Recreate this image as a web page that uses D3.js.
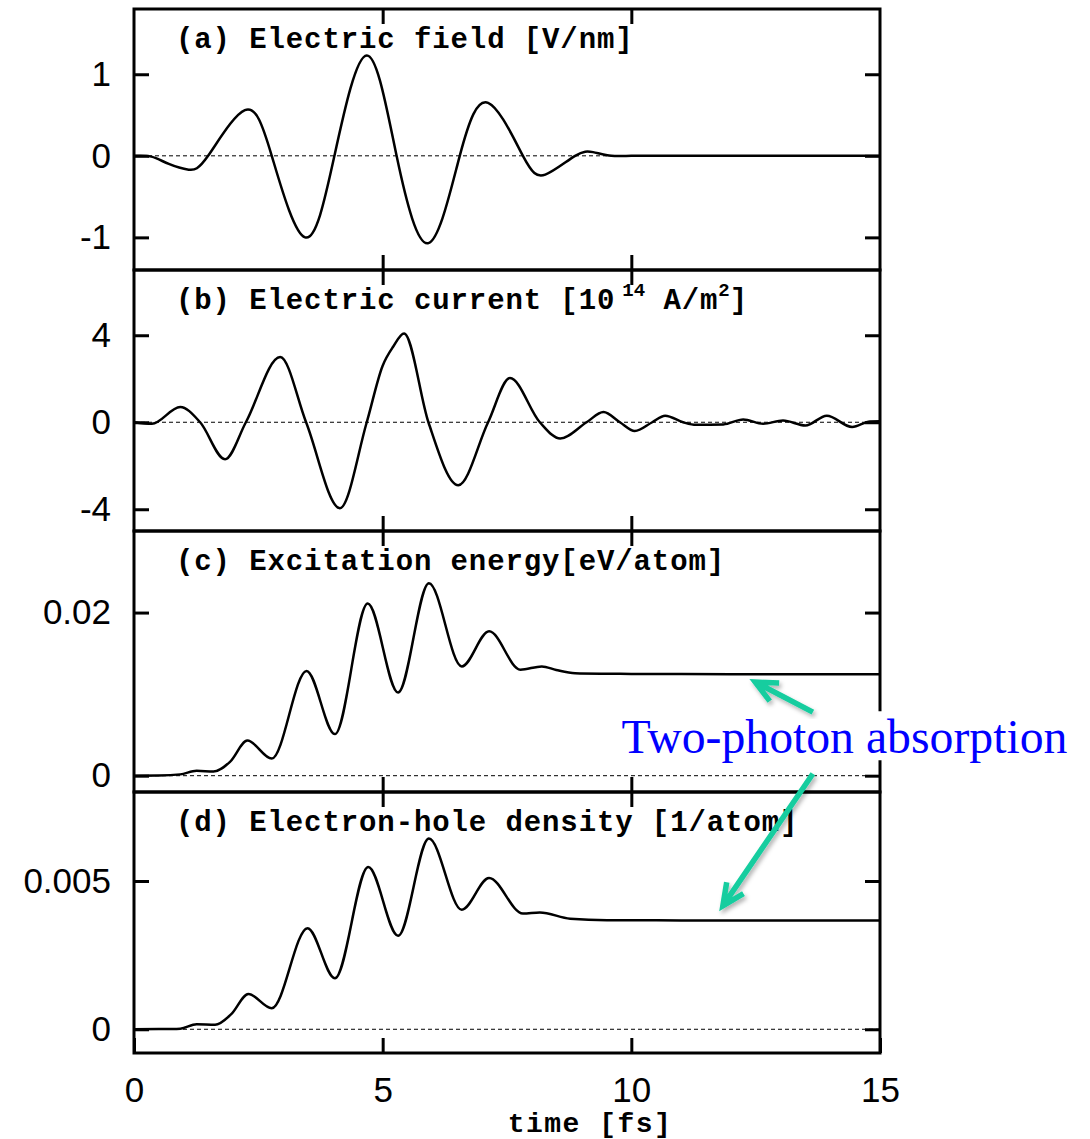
<!DOCTYPE html>
<html>
<head>
<meta charset="utf-8">
<script src="https://cdn.jsdelivr.net/npm/d3@7"></script>
<style>
  body { margin: 0; background: #fff; }
  svg { display: block; }
</style>
</head>
<body>
<svg id="chart" width="1090" height="1139"></svg>
<script>
// ---- time axis [fs] ----
const xTicks = [0, 5, 10, 15];
const xInnerTicks = [5, 10];

// ---- (a) electric field [V/nm] ----
const fieldTime  = [0, 0.35, 0.7, 1.1, 1.49, 2.23, 2.77, 3.44, 4.03, 4.68, 5.28, 5.92, 6.55, 7.12, 7.82, 8.27, 8.87, 9.23, 9.6, 10, 10.5, 11, 12, 13, 14, 15];
const fieldValue = [0, -0.01, -0.1, -0.17, 0, 0.56, 0, -1.0, 0, 1.23, 0, -1.07, 0, 0.65, 0, -0.23, 0, 0.045, 0, 0, 0, 0, 0, 0, 0, 0];
const fieldTicks = [-1, 0, 1];

// ---- (b) electric current [10^14 A/m^2] ----
const currentTime  = [0, 0.36, 0.93, 1.33, 1.83, 2.25, 2.94, 3.46, 4.14, 4.68, 5.0, 5.21, 5.43, 5.92, 6.52, 7.12, 7.56, 8.16, 8.57, 9.1, 9.44, 9.77, 10.07, 10.42, 10.68, 11.04, 11.3, 11.85, 12.25, 12.65, 13.05, 13.5, 13.93, 14.44, 14.8, 15];
const currentValue = [0, -0.07, 0.7, 0, -1.7, 0, 3.0, 0, -3.95, 0, 2.6, 3.47, 4.08, 0, -2.9, 0, 2.03, 0, -0.75, 0, 0.47, 0, -0.4, 0, 0.3, 0, -0.12, -0.1, 0.13, -0.07, 0.08, -0.15, 0.3, -0.22, 0.04, 0.05];
const currentTicks = [-4, 0, 4];

// ---- (c) excitation energy [eV/atom] ----
const energyTime  = [0, 0.5, 0.93, 1.26, 1.6, 1.93, 2.28, 2.77, 3.47, 4.04, 4.7, 5.31, 5.93, 6.59, 7.14, 7.77, 8.2, 8.49, 8.87, 9.5, 10, 11, 12, 13, 14, 15];
const energyValue = [0, 0.00002, 0.00016, 0.0006, 0.0005, 0.0017, 0.0043, 0.0021, 0.01285, 0.0051, 0.0211, 0.0102, 0.0236, 0.0134, 0.0177, 0.013, 0.0134, 0.01296, 0.01256, 0.0125, 0.01248, 0.01246, 0.01245, 0.01244, 0.01243, 0.01243];
const energyTicks = [0, 0.02];

// ---- (d) electron-hole density [1/atom] ----
const densityTime  = [0, 0.5, 0.93, 1.26, 1.63, 1.95, 2.3, 2.77, 3.49, 4.04, 4.71, 5.31, 5.93, 6.59, 7.14, 7.82, 8.16, 8.77, 9.51, 10, 11, 12, 13, 14, 15];
const densityValue = [0, 0.000005, 0.00002, 0.00017, 0.00015, 0.0005, 0.00119, 0.00071, 0.00341, 0.00172, 0.00547, 0.00315, 0.00643, 0.00403, 0.0051, 0.0039, 0.00394, 0.00373, 0.00368, 0.00368, 0.00367, 0.00367, 0.00367, 0.00367, 0.00367];
const densityTicks = [0, 0.005];

// panel headings (segments marked sup are superscripts)
const titleA = [{ t: "(a) Electric field [V/nm]" }];
const titleB = [{ t: "(b) Electric current [10" }, { t: "14", sup: true, dx: 7 }, { t: " A/m" }, { t: "2", sup: true, dx: 0 }, { t: "]" }];
const titleC = [{ t: "(c) Excitation energy[eV/atom]" }];
const titleD = [{ t: "(d) Electron-hole density [1/atom]" }];
const xLabel = "time [fs]";

// annotation: label and two arrows, in data coordinates of panels c/d
const noteText = "Two-photon absorption";
const noteAnchor = { panel: 2, t: 9.8, v: 0.00275 };
const noteArrows = [
  { from: { panel: 2, t: 13.65, v: 0.0078 },  to: { panel: 2, t: 12.49, v: 0.01148 } },
  { from: { panel: 2, t: 13.65, v: 0.00024 }, to: { panel: 3, t: 11.84, v: 0.00416 } }
];

// ---- layout ----
const W = 1090, H = 1139;
const left = 134, right = 880, top0 = 9, panelH = 261;
const tickLen = 15;
const monoFont = "'Liberation Mono', 'DejaVu Sans Mono', monospace";
const sansFont = "'Liberation Sans', Arial, sans-serif";

const x = d3.scaleLinear().domain([0, 15]).range([left, right]);
const svg = d3.select("#chart");
svg.append("rect").attr("width", W).attr("height", H).attr("fill", "#fff");

const defs = svg.append("defs");
defs.append("filter").attr("id", "soft-shadow")
  .attr("x", "-20%").attr("y", "-20%").attr("width", "140%").attr("height", "140%")
  .append("feDropShadow")
  .attr("dx", 2).attr("dy", 3).attr("stdDeviation", 2)
  .attr("flood-color", "#000").attr("flood-opacity", 0.3);

// the field is a smooth pulse (natural spline); the response curves keep their shape with a monotone fit
const panels = [
  { time: fieldTime,   value: fieldValue,   domain: [-1.4, 1.8],       ticks: fieldTicks,   title: titleA, curve: d3.curveNatural },
  { time: currentTime, value: currentValue, domain: [-5, 7],           ticks: currentTicks, title: titleB, curve: d3.curveMonotoneX },
  { time: energyTime,  value: energyValue,  domain: [-0.002, 0.03],    ticks: energyTicks,  title: titleC, curve: d3.curveMonotoneX },
  { time: densityTime, value: densityValue, domain: [-0.0008, 0.008],  ticks: densityTicks, title: titleD, curve: d3.curveMonotoneX }
];

function styleAxis(g) {
  g.select(".domain").remove();
  g.selectAll(".tick line").attr("stroke", "#000").attr("stroke-width", 3);
  g.selectAll(".tick text").attr("fill", "#000").attr("font-family", sansFont);
}

panels.forEach((p, i) => {
  const y0 = top0 + i * panelH, y1 = y0 + panelH;
  const y = d3.scaleLinear().domain(p.domain).range([y1, y0]);
  p.y = y;
  const g = svg.append("g").attr("class", "panel");

  // dashed zero reference
  g.append("line")
    .attr("x1", left).attr("x2", right)
    .attr("y1", y(0)).attr("y2", y(0))
    .attr("stroke", "#000").attr("stroke-width", 1)
    .attr("stroke-dasharray", "4,3");

  // data curve
  const pts = p.time.map((t, k) => [x(t), y(p.value[k])]);
  g.append("path")
    .attr("d", d3.line().curve(p.curve)(pts))
    .attr("fill", "none")
    .attr("stroke", "#000")
    .attr("stroke-width", 2.5)
    .attr("stroke-linejoin", "round");

  // y axes (labelled left, mirrored right)
  g.append("g").attr("transform", `translate(${left},0)`)
    .call(d3.axisLeft(y).tickValues(p.ticks).tickSize(-tickLen).tickPadding(23).tickFormat(d => String(d)))
    .call(styleAxis)
    .selectAll(".tick text").attr("font-size", 35);
  g.append("g").attr("transform", `translate(${right},0)`)
    .call(d3.axisRight(y).tickValues(p.ticks).tickSize(-tickLen).tickFormat(""))
    .call(styleAxis);

  // x ticks on top and bottom edges
  g.append("g").attr("transform", `translate(0,${y0})`)
    .call(d3.axisTop(x).tickValues(xInnerTicks).tickSize(-tickLen).tickFormat(""))
    .call(styleAxis);
  if (i < panels.length - 1) {
    g.append("g").attr("transform", `translate(0,${y1})`)
      .call(d3.axisBottom(x).tickValues(xInnerTicks).tickSize(-tickLen).tickFormat(""))
      .call(styleAxis);
  } else {
    g.append("g").attr("transform", `translate(0,${y1})`)
      .call(d3.axisBottom(x).tickValues(xTicks).tickSize(-tickLen).tickPadding(24).tickFormat(d => String(d)))
      .call(styleAxis)
      .selectAll(".tick text").attr("font-size", 35);
  }

  // frame
  g.append("rect")
    .attr("x", left).attr("y", y0)
    .attr("width", right - left).attr("height", panelH)
    .attr("fill", "none").attr("stroke", "#000").attr("stroke-width", 3);

  // heading
  const txt = g.append("text")
    .attr("x", 176).attr("y", y0 + 39)
    .attr("font-family", monoFont).attr("font-weight", "bold")
    .attr("font-size", 29).attr("letter-spacing", 0.9)
    .attr("fill", "#000");
  let raised = false;
  p.title.forEach(seg => {
    const ts = txt.append("tspan").text(seg.t);
    if (seg.sup && !raised) {
      ts.attr("dy", -13).attr("font-size", 19).attr("letter-spacing", 0).attr("dx", seg.dx || 0);
      raised = true;
    } else if (!seg.sup && raised) {
      ts.attr("dy", 13);
      raised = false;
    }
  });
});

// x axis title
svg.append("text")
  .attr("x", 590).attr("y", 1132)
  .attr("text-anchor", "middle")
  .attr("font-family", monoFont).attr("font-weight", "bold")
  .attr("font-size", 28).attr("letter-spacing", 1.5)
  .attr("fill", "#000")
  .text(xLabel);

// ---- annotation ----
const px = a => [x(a.t), panels[a.panel].y(a.v)];
const note = svg.append("g").attr("class", "note");
const boxRect = note.append("rect").attr("fill", "#fff");
const [nx, ny] = px(noteAnchor);
const label = note.append("text")
  .attr("x", nx).attr("y", ny)
  .attr("font-family", "'Liberation Serif', 'Times New Roman', serif")
  .attr("font-size", 48)
  .attr("fill", "#0000ff")
  .attr("textLength", 446).attr("lengthAdjust", "spacingAndGlyphs")
  .text(noteText);
const bb = label.node().getBBox();
boxRect.attr("x", bb.x - 10).attr("y", bb.y + 1)
  .attr("width", bb.width + 20).attr("height", bb.height - 4);

const arrowColor = "#14cd9f";
noteArrows.forEach(a => {
  const [x1, y1] = px(a.from), [x2, y2] = px(a.to);
  const ang = Math.atan2(y1 - y2, x1 - x2);
  const hl = 24, spread = 25 * Math.PI / 180;
  const w1 = [x2 + hl * Math.cos(ang + spread), y2 + hl * Math.sin(ang + spread)];
  const w2 = [x2 + hl * Math.cos(ang - spread), y2 + hl * Math.sin(ang - spread)];
  const ag = note.append("g").attr("filter", "url(#soft-shadow)");
  ag.append("path")
    .attr("d", `M${x1},${y1}L${x2},${y2}M${w1[0]},${w1[1]}L${x2},${y2}L${w2[0]},${w2[1]}`)
    .attr("fill", "none")
    .attr("stroke", arrowColor)
    .attr("stroke-width", 5.5)
    .attr("stroke-linejoin", "miter")
    .attr("stroke-linecap", "butt");
});
</script>
</body>
</html>
